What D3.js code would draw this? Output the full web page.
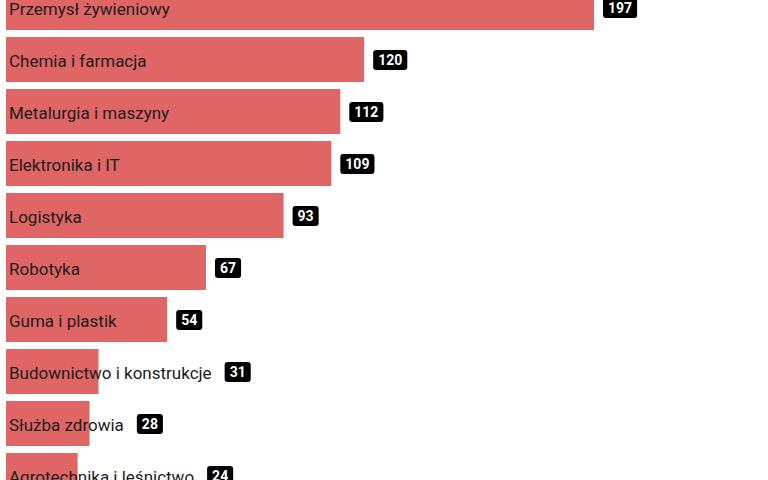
<!DOCTYPE html>
<html lang="pl">
<head>
<meta charset="UTF-8">
<title>Branże</title>
<style>
  body { margin: 0; background: #fff; }
  svg { display: block; }
</style>
</head>
<body>
<div id="chart"></div>
<script src="https://cdn.jsdelivr.net/npm/d3@7/dist/d3.min.js"></script>
<script>
  const categories = ["Przemysł żywieniowy", "Chemia i farmacja", "Metalurgia i maszyny", "Elektronika i IT",
    "Logistyka", "Robotyka", "Guma i plastik", "Budownictwo i konstrukcje", "Służba zdrowia", "Agrotechnika i leśnictwo"];
  const values = [197, 120, 112, 109, 93, 67, 54, 31, 28, 24];

  const width = 768, height = 480;
  const data = categories.map((c, i) => ({ name: c, value: values[i] }));

  const svg = d3.select("#chart").append("svg")
    .attr("width", width)
    .attr("height", height);

  const x = d3.scaleLinear()
    .domain([0, d3.max(values)])
    .range([6, 594]);

  const y = d3.scaleBand()
    .domain(categories)
    .range([-15, 498])
    .paddingInner(7 / 52)
    .paddingOuter(0);

  const row = svg.selectAll("g.row")
    .data(data)
    .join("g")
    .attr("class", "row")
    .attr("transform", d => "translate(0," + y(d.name) + ")");

  row.append("rect")
    .attr("x", x(0))
    .attr("width", d => x(d.value) - x(0))
    .attr("height", y.bandwidth())
    .attr("fill", "#e06666");

  const labels = row.append("text")
    .attr("x", 9)
    .attr("y", y.bandwidth() / 2)
    .attr("dy", "0.45em")
    .attr("font-family", "Roboto, sans-serif")
    .attr("font-size", 17)
    .attr("fill", "#1c1c1c")
    .text(d => d.name);

  // value badge goes after the bar, or after the label if the label sticks out
  labels.each(function(d) {
    const textEnd = 9 + this.getComputedTextLength();
    const left = Math.max(x(d.value), textEnd + 4) + 9;
    const g = d3.select(this.parentNode).append("g")
      .attr("transform", "translate(" + left + "," + (y.bandwidth() / 2 - 9.5) + ")");
    const t = g.append("text")
      .attr("x", 0)
      .attr("y", 10)
      .attr("dy", "0.36em")
      .attr("font-family", "Roboto, sans-serif")
      .attr("font-weight", "bold")
      .attr("font-size", 14)
      .attr("fill", "#fff")
      .text(d.value);
    const w = t.node().getComputedTextLength() + 10;
    t.attr("x", w / 2).attr("text-anchor", "middle");
    g.insert("rect", "text")
      .attr("width", w)
      .attr("height", 20)
      .attr("rx", 3)
      .attr("fill", "#000");
  });
</script>
</body>
</html>
